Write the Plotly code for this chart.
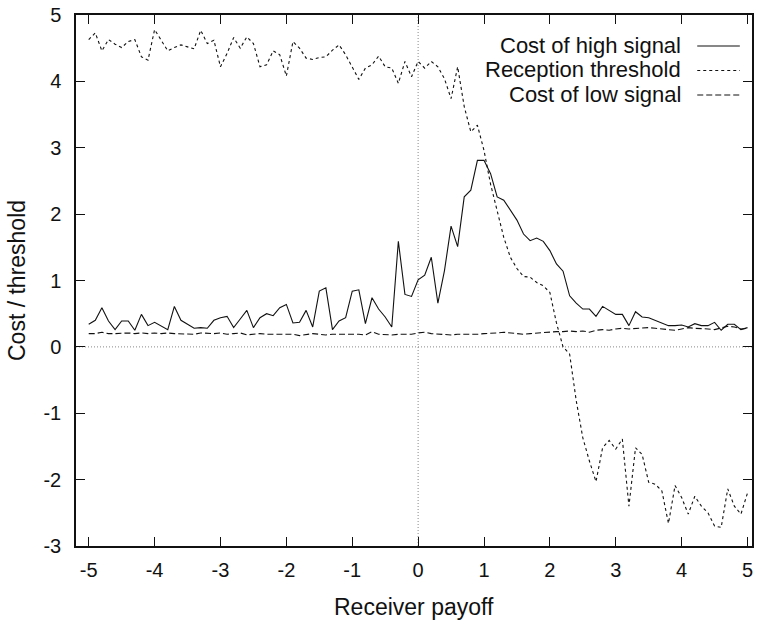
import numpy as np
import plotly.graph_objects as go

# Receiver payoff grid (step 0.1 from -5 to 5)
payoff = np.round(np.linspace(-5.0, 5.0, 101), 1)

cost_high = [
    0.34, 0.40, 0.59, 0.39, 0.26, 0.39, 0.39, 0.25, 0.49, 0.32,
    0.37, 0.32, 0.26, 0.61, 0.40, 0.34, 0.28, 0.29, 0.28, 0.40,
    0.44, 0.46, 0.29, 0.42, 0.55, 0.29, 0.44, 0.50, 0.47, 0.59,
    0.64, 0.36, 0.37, 0.55, 0.30, 0.84, 0.89, 0.26, 0.39, 0.44,
    0.84, 0.86, 0.35, 0.74, 0.57, 0.45, 0.30, 1.59, 0.79, 0.76,
    1.01, 1.08, 1.35, 0.66, 1.15, 1.82, 1.51, 2.26, 2.36, 2.81,
    2.81, 2.61, 2.26, 2.21, 2.06, 1.91, 1.70, 1.60, 1.64, 1.59,
    1.45, 1.25, 1.14, 0.77, 0.66, 0.57, 0.57, 0.46, 0.61, 0.55,
    0.49, 0.49, 0.32, 0.53, 0.45, 0.44, 0.40, 0.35, 0.32, 0.32,
    0.33, 0.30, 0.35, 0.32, 0.32, 0.37, 0.25, 0.34, 0.34, 0.26,
    0.29,
]

reception_threshold = [
    4.63, 4.73, 4.46, 4.63, 4.56, 4.51, 4.60, 4.63, 4.37, 4.32,
    4.78, 4.62, 4.46, 4.51, 4.55, 4.52, 4.49, 4.77, 4.57, 4.62,
    4.22, 4.42, 4.66, 4.50, 4.67, 4.57, 4.22, 4.25, 4.46, 4.40,
    4.08, 4.60, 4.50, 4.35, 4.33, 4.36, 4.37, 4.47, 4.55, 4.40,
    4.22, 4.03, 4.20, 4.25, 4.38, 4.22, 4.20, 3.97, 4.30, 4.07,
    4.30, 4.20, 4.30, 4.22, 4.04, 3.74, 4.22, 3.62, 3.24, 3.34,
    2.96, 2.45, 2.05, 1.65, 1.35, 1.18, 1.06, 1.05, 0.97, 0.92,
    0.82, 0.36, 0.00, -0.11, -0.81, -1.37, -1.72, -2.03, -1.52, -1.41,
    -1.54, -1.39, -2.40, -1.52, -1.62, -2.04, -2.07, -2.17, -2.66, -2.09,
    -2.27, -2.52, -2.25, -2.40, -2.50, -2.70, -2.72, -2.14, -2.40, -2.52,
    -2.20,
]

cost_low = [
    0.20, 0.20, 0.22, 0.20, 0.20, 0.21, 0.21, 0.20, 0.21, 0.20,
    0.21, 0.20, 0.21, 0.20, 0.20, 0.20, 0.19, 0.21, 0.20, 0.20,
    0.21, 0.19, 0.20, 0.21, 0.18, 0.19, 0.20, 0.19, 0.19, 0.20,
    0.20, 0.19, 0.17, 0.19, 0.20, 0.19, 0.18, 0.19, 0.19, 0.20,
    0.19, 0.19, 0.18, 0.23, 0.19, 0.18, 0.18, 0.19, 0.19, 0.19,
    0.21, 0.22, 0.20, 0.19, 0.19, 0.18, 0.19, 0.19, 0.18, 0.19,
    0.20, 0.20, 0.21, 0.22, 0.21, 0.20, 0.19, 0.20, 0.21, 0.21,
    0.22, 0.23, 0.23, 0.24, 0.23, 0.24, 0.22, 0.25, 0.26, 0.25,
    0.27, 0.28, 0.27, 0.28, 0.29, 0.29, 0.28, 0.27, 0.26, 0.25,
    0.27, 0.29, 0.28, 0.28, 0.27, 0.26, 0.28, 0.31, 0.30, 0.27,
    0.28,
]

series_names = ["Cost of high signal", "Reception threshold", "Cost of low signal"]
series_dash = ["solid", "3px,3px", "6px,3px"]

x_tick_vals = [-5, -4, -3, -2, -1, 0, 1, 2, 3, 4, 5]
x_tick_text = ["-5", "-4", "-3", "-2", "-1", "0", "1", "2", "3", "4", "5"]
y_tick_vals = [-3, -2, -1, 0, 1, 2, 3, 4, 5]
y_tick_text = ["-3", "-2", "-1", "0", "1", "2", "3", "4", "5"]

assert len(cost_high) == len(reception_threshold) == len(cost_low) == len(payoff)

FONT = "Liberation Sans, Arial, Helvetica, sans-serif"
INK = "#111111"

fig = go.Figure()
for name, values, dash in zip(series_names, [cost_high, reception_threshold, cost_low], series_dash):
    fig.add_trace(go.Scatter(
        x=payoff, y=values, mode="lines", name=name,
        line=dict(color=INK, width=1.1, dash=dash),
        showlegend=False,
    ))

# dotted axes through the origin
fig.add_shape(type="line", xref="x", yref="paper", x0=0, x1=0, y0=0, y1=1,
              line=dict(color="#888888", width=1, dash="1px,2px"), layer="below")
fig.add_shape(type="line", xref="paper", yref="y", x0=0, x1=1, y0=0, y1=0,
              line=dict(color="#888888", width=1, dash="1px,2px"), layer="below")

# key in the top-right corner: right-aligned text, line sample on the right
key_text_rows = [0.9426, 0.8965, 0.8503]
key_line_rows = [0.9416, 0.8955, 0.8493]
for name, dash, ty, ly in zip(series_names, series_dash, key_text_rows, key_line_rows):
    fig.add_annotation(xref="paper", yref="paper", x=0.896, y=ty, text=name,
                       showarrow=False, xanchor="right", yanchor="middle",
                       borderpad=0,
                       font=dict(family=FONT, size=22, color=INK))
    fig.add_shape(type="line", xref="paper", yref="paper", x0=0.919, x1=0.982,
                  y0=ly, y1=ly,
                  line=dict(color=INK, width=1.1, dash=dash))

fig.add_annotation(xref="paper", yref="paper", x=0.5, y=-0.115, text="Receiver payoff",
                   showarrow=False, xanchor="center", yanchor="middle",
                   font=dict(family=FONT, size=23, color=INK))
fig.add_annotation(xref="paper", yref="paper", x=-0.088, y=0.5, text="Cost / threshold",
                   showarrow=False, xanchor="center", yanchor="middle", textangle=-90,
                   font=dict(family=FONT, size=23, color=INK))

axis_common = dict(
    showgrid=False, zeroline=False, showline=True, linecolor=INK, linewidth=1.5,
    mirror="ticks", ticks="inside", ticklen=9, tickwidth=1.2, tickcolor=INK,
    tickfont=dict(family=FONT, size=20, color=INK), automargin=False,
)

fig.update_layout(
    width=761, height=620,
    margin=dict(l=76, r=9, t=15, b=74),
    paper_bgcolor="white", plot_bgcolor="white",
    xaxis=dict(range=[-5.193, 5.068], tickvals=x_tick_vals, ticktext=x_tick_text,
               ticklabelstandoff=5, **axis_common),
    yaxis=dict(range=[-3, 5], tickvals=y_tick_vals, ticktext=y_tick_text,
               ticklabelstandoff=9, **axis_common),
)

fig.write_html("out.html")
